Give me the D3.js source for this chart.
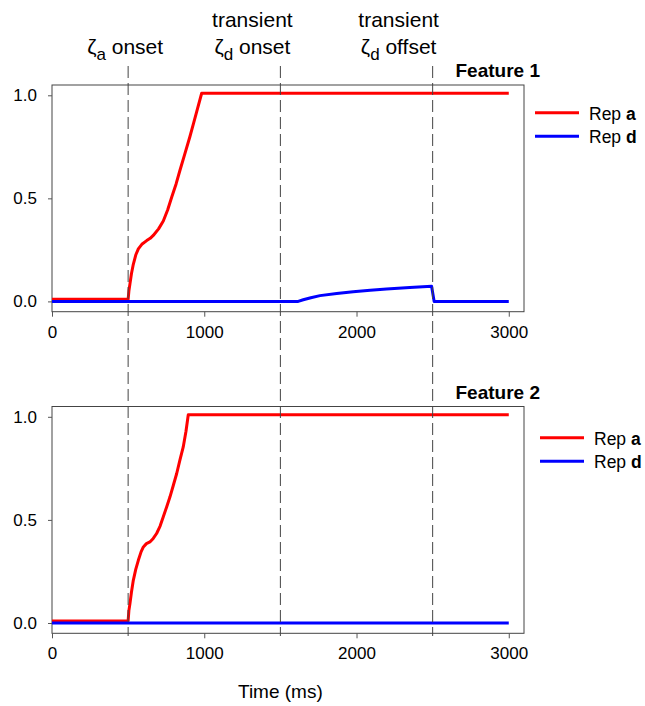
<!DOCTYPE html>
<html>
<head>
<meta charset="utf-8">
<script src="https://cdn.jsdelivr.net/npm/d3@7"></script>
<style>
  body { margin: 0; background: #fff; }
  svg { font-family: "Liberation Sans", Arial, sans-serif; }
</style>
</head>
<body>
<div id="chart"></div>
<script>
// Feature 1, Rep a (time in ms, activation)
var f1aTime = [0, 500, 505, 512, 522, 534, 550, 567, 590, 622, 645, 665, 700, 731, 760, 786, 815, 840, 870, 906, 930, 950, 983, 3000];
var f1aVal  = [0.01, 0.01, 0.05, 0.085, 0.135, 0.18, 0.225, 0.255, 0.277, 0.295, 0.306, 0.32, 0.352, 0.39, 0.445, 0.505, 0.57, 0.635, 0.71, 0.80, 0.865, 0.92, 1.01, 1.01];
// Feature 1, Rep d
var f1dTime = [0, 1617, 1650, 1700, 1760, 1870, 1978, 2090, 2197, 2350, 2493, 2510, 3000];
var f1dVal  = [0, 0, 0.008, 0.018, 0.028, 0.038, 0.047, 0.054, 0.06, 0.067, 0.073, 0, 0];
// Feature 2, Rep a
var f2aTime = [0, 500, 505, 512, 522, 534, 550, 567, 585, 600, 620, 643, 665, 687, 710, 731, 753, 775, 797, 819, 840, 862, 880, 895, 3000];
var f2aVal  = [0.01, 0.01, 0.06, 0.094, 0.15, 0.207, 0.26, 0.304, 0.345, 0.369, 0.385, 0.393, 0.41, 0.434, 0.47, 0.515, 0.563, 0.612, 0.668, 0.725, 0.79, 0.854, 0.93, 1.01, 1.01];
// Feature 2, Rep d
var f2dTime = [0, 3000];
var f2dVal  = [0, 0];

var xTicks = [0, 1000, 2000, 3000];
var yTicks = [0, 0.5, 1.0];
var eventTimes = [500, 1500, 2500];
var eventLabels = [["", "ζ|a| onset"], ["transient", "ζ|d| onset"], ["transient", "ζ|d| offset"]];
var panelTitles = ["Feature 1", "Feature 2"];
var seriesNames = ["a", "d"];
var seriesColors = ["#ff0000", "#0000ff"];

var width = 645, height = 706;
var left = 52, right = 524;
var panels = [
    {top: 85, bottom: 311.7, title: panelTitles[0], legX: 535, legY: 112.7,
     series: [[f1aTime, f1aVal], [f1dTime, f1dVal]]},
    {top: 406.5, bottom: 633.3, title: panelTitles[1], legX: 540, legY: 437.7,
     series: [[f2aTime, f2aVal], [f2dTime, f2dVal]]}
];

var svg = d3.select("#chart").append("svg")
    .attr("width", width)
    .attr("height", height);

var x = d3.scaleLinear().domain([0, 3100]).range([left, right]);

panels.forEach(function (p) {
    var y = d3.scaleLinear().domain([-0.05, 1.05]).range([p.bottom, p.top]);

    svg.append("rect")
        .attr("x", left).attr("y", p.top)
        .attr("width", right - left).attr("height", p.bottom - p.top)
        .attr("fill", "none").attr("stroke", "#444").attr("stroke-width", 1);

    var xa = svg.append("g")
        .attr("transform", "translate(0," + p.bottom + ")")
        .call(d3.axisBottom(x).tickValues(xTicks).tickSize(5).tickPadding(9).tickFormat(d3.format("d")));
    xa.select(".domain").remove();
    xa.selectAll("line").attr("stroke", "#555");
    xa.selectAll("text").style("font-size", "17px").style("font-family", "Liberation Sans, Arial").attr("fill", "#000");

    var ya = svg.append("g")
        .attr("transform", "translate(" + left + ",0)")
        .call(d3.axisLeft(y).tickValues(yTicks).tickSize(4).tickPadding(11).tickFormat(d3.format(".1f")));
    ya.select(".domain").remove();
    ya.selectAll("line").attr("stroke", "#555");
    ya.selectAll("text").style("font-size", "17px").style("font-family", "Liberation Sans, Arial").attr("fill", "#000");

    var line = d3.line()
        .x(function (d) { return x(d[0]); })
        .y(function (d) { return y(d[1]); });

    p.series.forEach(function (s, i) {
        var pts = s[0].map(function (t, k) { return [t, s[1][k]]; });
        svg.append("path")
            .datum(pts)
            .attr("d", line)
            .attr("fill", "none")
            .attr("stroke", seriesColors[i])
            .attr("stroke-width", 3)
            .attr("stroke-linejoin", "round");
    });

    svg.append("text")
        .attr("x", 540).attr("y", p.top - 8)
        .attr("text-anchor", "end")
        .style("font-size", "19px").style("font-weight", "bold")
        .text(p.title);

    seriesNames.forEach(function (n, i) {
        var ly = p.legY + i * 23.5;
        svg.append("line")
            .attr("x1", p.legX).attr("x2", p.legX + 44)
            .attr("y1", ly).attr("y2", ly)
            .attr("stroke", seriesColors[i]).attr("stroke-width", 3);
        var t = svg.append("text")
            .attr("x", p.legX + 54).attr("y", ly + 7)
            .style("font-size", "17.5px");
        t.append("tspan").text("Rep ");
        t.append("tspan").style("font-weight", "bold").text(n);
    });
});

// vertical dashed event markers
svg.selectAll(".event")
    .data(eventTimes)
    .enter().append("line")
    .attr("class", "event")
    .attr("x1", function (d) { return x(d); })
    .attr("x2", function (d) { return x(d); })
    .attr("y1", 66).attr("y2", 636)
    .attr("stroke", "#444")
    .attr("stroke-width", 1)
    .attr("stroke-dasharray", "12,5");

// event labels above the top panel
var labelShift = [-3, -28, -34];
eventTimes.forEach(function (t, i) {
    var cx = x(t) + labelShift[i];
    var lab = eventLabels[i];
    if (lab[0]) {
        svg.append("text")
            .attr("x", cx).attr("y", 27)
            .attr("text-anchor", "middle")
            .style("font-size", "21px")
            .text(lab[0]);
    }
    var parts = lab[1].split("|");
    var txt = svg.append("text")
        .attr("x", cx).attr("y", 54)
        .attr("text-anchor", "middle")
        .style("font-size", "21px");
    txt.append("tspan").text(parts[0]);
    txt.append("tspan").attr("dy", 6).style("font-size", "17px").text(parts[1]);
    txt.append("tspan").attr("dy", -6).text(parts[2]);
});

svg.append("text")
    .attr("x", x(1500)).attr("y", 698)
    .attr("text-anchor", "middle")
    .style("font-size", "19px")
    .text("Time (ms)");
</script>
</body>
</html>
